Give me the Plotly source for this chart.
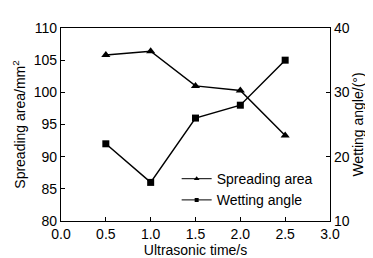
import plotly.graph_objects as go

time_s = [0.5, 1.0, 1.5, 2.0, 2.5]
spreading_area = [105.8, 106.4, 101.0, 100.3, 93.3]
wetting_angle = [22, 16, 26, 28, 35]

fnt = dict(family="Liberation Sans, Arial, sans-serif", size=14, color="black")

fig = go.Figure()
fig.add_trace(go.Scatter(x=time_s, y=spreading_area, name="Spreading area",
                         mode="lines+markers", showlegend=False,
                         line=dict(color="black", width=1.5),
                         marker=dict(symbol="triangle-up", size=8, color="black")))
fig.add_trace(go.Scatter(x=time_s, y=wetting_angle, name="Wetting angle",
                         mode="lines+markers", yaxis="y2", showlegend=False,
                         line=dict(color="black", width=1.5),
                         marker=dict(symbol="square", size=7, color="black")))
# legend entries with smaller symbols, as in the reference
fig.add_trace(go.Scatter(x=[None], y=[None], name="Spreading area",
                         mode="lines+markers",
                         line=dict(color="black", width=1),
                         marker=dict(symbol="triangle-up", size=5, color="black")))
fig.add_trace(go.Scatter(x=[None], y=[None], name="Wetting angle",
                         mode="lines+markers", yaxis="y2",
                         line=dict(color="black", width=1),
                         marker=dict(symbol="square", size=4, color="black")))

fig.update_layout(
    width=373, height=258,
    margin=dict(l=53, r=51, t=15, b=40),
    plot_bgcolor="white", paper_bgcolor="white",
    font=fnt,
    showlegend=True,
    legend=dict(x=0.43, y=0.3, xanchor="left", yanchor="top",
                bgcolor="rgba(0,0,0,0)", font=fnt,
                tracegroupgap=0, itemwidth=30),
    xaxis=dict(range=[0, 3.0], dtick=0.5, tickformat=".1f",
               showline=True, linecolor="black", linewidth=1.2, mirror=True,
               ticks="inside", ticklen=4, tickcolor="black",
               showgrid=False, zeroline=False,
               title=dict(text="Ultrasonic time/s", font=fnt, standoff=2)),
    yaxis=dict(range=[80, 110], dtick=5,
               showline=True, linecolor="black", linewidth=1.2,
               ticks="inside", ticklen=4, tickcolor="black",
               showgrid=False, zeroline=False,
               title=dict(text="Spreading area/mm<sup>2</sup>", font=fnt, standoff=4)),
    yaxis2=dict(range=[10, 40], dtick=10, overlaying="y", side="right",
                showline=True, linecolor="black", linewidth=1.2,
                ticks="inside", ticklen=4, tickcolor="black",
                showgrid=False, zeroline=False,
                title=dict(text="Wetting angle/(°)", font=fnt, standoff=3)),
)

fig.write_html("out.html")
